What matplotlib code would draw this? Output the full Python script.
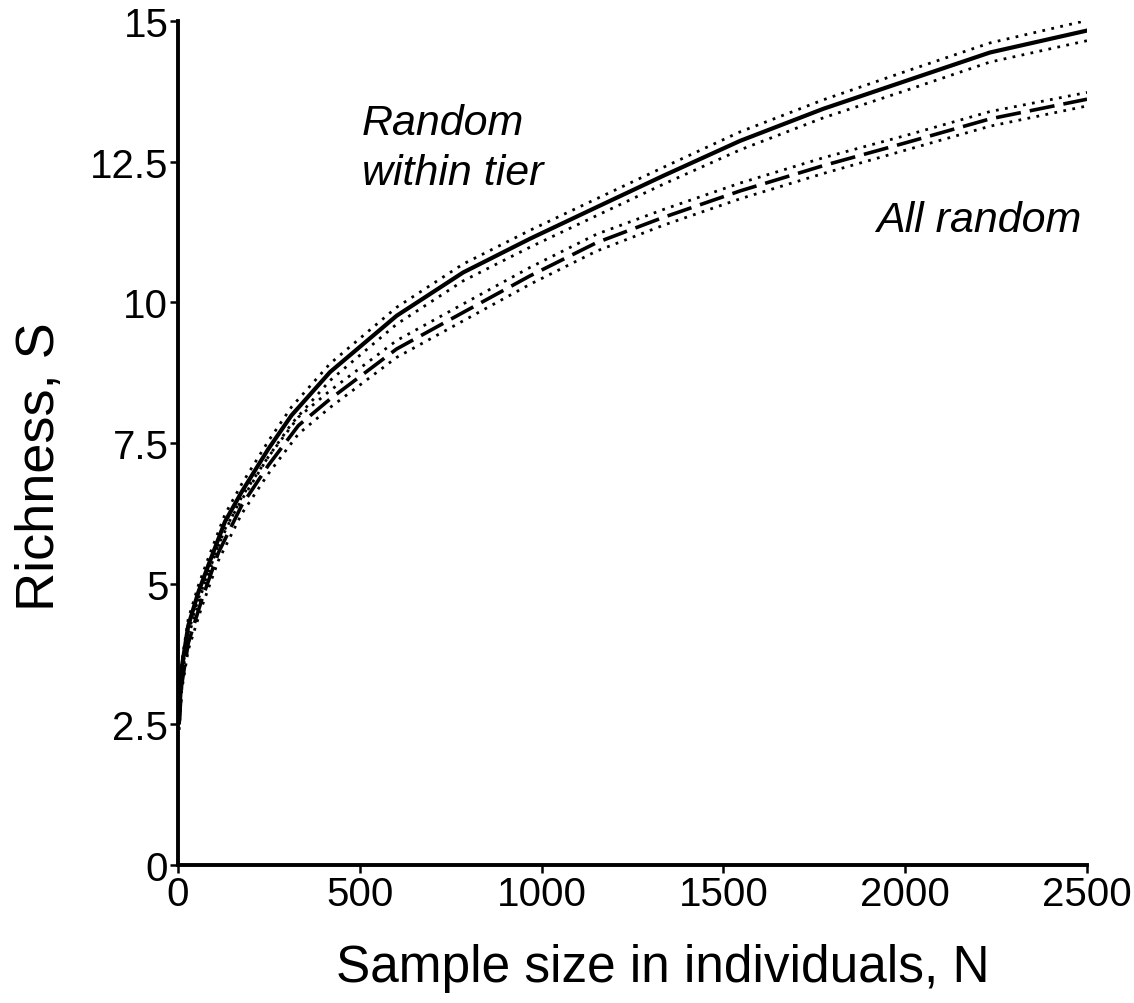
import matplotlib.pyplot as plt

# Rarefaction curves
n_tier = [3, 10, 28, 56, 83, 129, 175, 248, 312, 418, 601, 784, 968, 1151, 1335, 1546, 1775, 2004, 2233, 2500]
s_tier = [2.6, 3.5, 4.25, 4.85, 5.32, 6.1, 6.63, 7.39, 7.99, 8.76, 9.76, 10.53, 11.13, 11.69, 12.25, 12.87, 13.44, 13.94, 14.44, 14.83]
ci_tier = [0.1, 0.1, 0.12, 0.12, 0.13, 0.13, 0.14, 0.14, 0.15, 0.15, 0.15, 0.15, 0.15, 0.15, 0.15, 0.16, 0.16, 0.17, 0.17, 0.18]

n_all = [3, 10, 28, 65, 111, 175, 248, 331, 418, 601, 784, 968, 1151, 1335, 1546, 1775, 2004, 2233, 2500]
s_all = [2.5, 3.2, 3.94, 4.71, 5.55, 6.39, 7.1, 7.81, 8.28, 9.17, 9.82, 10.47, 11.06, 11.51, 11.98, 12.43, 12.84, 13.26, 13.61]
ci_all = [0.1, 0.1, 0.12, 0.13, 0.14, 0.15, 0.15, 0.15, 0.15, 0.15, 0.15, 0.15, 0.15, 0.14, 0.14, 0.14, 0.13, 0.13, 0.12]

xticks = [0, 500, 1000, 1500, 2000, 2500]
yticks = [0, 2.5, 5, 7.5, 10, 12.5, 15]
ytick_labels = ["0", "2.5", "5", "7.5", "10", "12.5", "15"]

plt.rcParams["font.family"] = "Liberation Sans"

fig = plt.figure(figsize=(11.34, 10.04), dpi=100)
ax = fig.add_axes([0.157, 0.1375, 0.8016, 0.8406])

dot = (0, (1, 2.3))
ax.plot(n_tier, s_tier, color="black", lw=3, solid_joinstyle="round")
ax.plot(n_tier, [s + c for s, c in zip(s_tier, ci_tier)], color="black", lw=2, ls=dot)
ax.plot(n_tier, [s - c for s, c in zip(s_tier, ci_tier)], color="black", lw=2, ls=dot)

ax.plot(n_all, s_all, color="black", lw=2.6, ls=(0, (7, 2.5)))
ax.plot(n_all, [s + c for s, c in zip(s_all, ci_all)], color="black", lw=2, ls=dot)
ax.plot(n_all, [s - c for s, c in zip(s_all, ci_all)], color="black", lw=2, ls=dot)

ax.set_xlim(0, 2500)
ax.set_ylim(0, 15)
ax.set_xticks(xticks)
ax.set_yticks(yticks)
ax.set_yticklabels(ytick_labels)
for sp in ["top", "right"]:
    ax.spines[sp].set_visible(False)
for sp in ["left", "bottom"]:
    ax.spines[sp].set_linewidth(2.8)
ax.tick_params(length=6, width=1.8, pad=1, labelsize=29)

ax.set_xlabel("Sample size in individuals, N", fontsize=37, va="center")
ax.set_ylabel("Richness, S", fontsize=39, va="center")
ax.xaxis.set_label_coords(0.533, -0.121)
ax.yaxis.set_label_coords(-0.152, 0.473)

ax.text(506, 12.99, "Random", style="italic", fontsize=31, va="baseline")
ax.text(506, 12.10, "within tier", style="italic", fontsize=31, va="baseline")
ax.text(2486, 11.27, "All random", style="italic", fontsize=31, va="baseline", ha="right")

fig.savefig("out.png", dpi=100)
